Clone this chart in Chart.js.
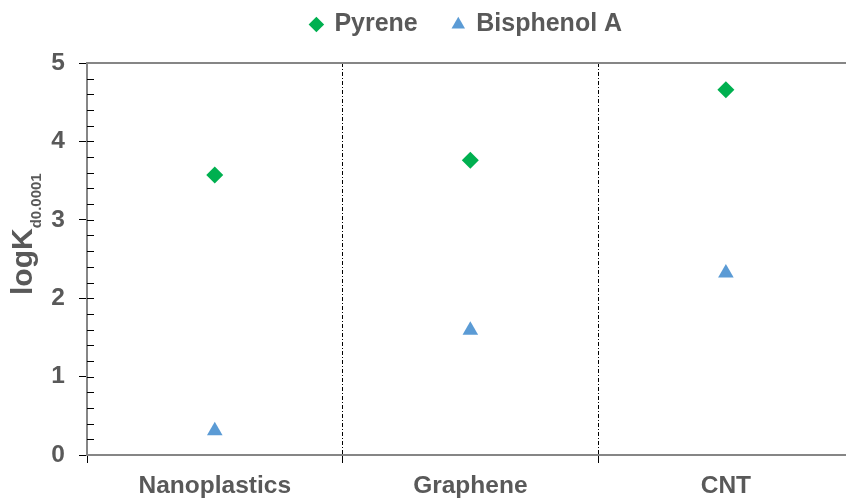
<!DOCTYPE html>
<html>
<head>
<meta charset="utf-8">
<script src="https://cdn.jsdelivr.net/npm/chart.js@4.4.0/dist/chart.umd.min.js"></script>
<style>
  html, body { margin: 0; padding: 0; background: #fff; }
  #wrap { width: 846px; height: 500px; position: relative; }
</style>
</head>
<body>
<div id="wrap"><canvas id="chart"></canvas></div>
<script>
// values
const categories = ["Nanoplastics", "Graphene", "CNT"];
const pyrene = [3.57, 3.76, 4.66];
const bisphenolA = [0.31, 1.59, 2.32];
const yTicks = [0, 1, 2, 3, 4, 5];

const FONT = "'Liberation Sans', Arial, sans-serif";
const TEXT = "#595959";
const AXIS = "#868686";

function points(vals) {
  return vals.map(function(v, i) { return {x: i + 0.5, y: v}; });
}
function isInt(v) { return Math.abs(v - Math.round(v)) < 1e-6; }

// minor ticks drawn on the inside of the y axis
const innerTicks = {
  id: "innerTicks",
  afterDatasetsDraw(chart) {
    const ctx = chart.ctx, y = chart.scales.y, left = chart.chartArea.left;
    ctx.save();
    ctx.strokeStyle = "#000";
    ctx.lineWidth = 1;
    for (let k = 1; k < 25; k++) {
      const py = Math.round(y.getPixelForValue(k * 0.2)) + 0.5;
      ctx.beginPath();
      ctx.moveTo(left, py);
      ctx.lineTo(left + 7, py);
      ctx.stroke();
    }
    ctx.restore();
  }
};

// y title with subscript
const yTitle = {
  id: "yTitle",
  afterDraw(chart) {
    const ctx = chart.ctx;
    ctx.save();
    ctx.translate(32, 295);
    ctx.rotate(-Math.PI / 2);
    ctx.fillStyle = TEXT;
    ctx.textAlign = "left";
    ctx.textBaseline = "alphabetic";
    ctx.font = "bold 30px " + FONT;
    ctx.fillText("logK", 0, 0);
    const w = ctx.measureText("logK").width;
    ctx.font = "bold 15px " + FONT;
    ctx.fillText("d0.0001", w, 9);
    ctx.restore();
  }
};

new Chart(document.getElementById("chart"), {
  type: "scatter",
  data: {
    datasets: [{
      label: "Pyrene",
      data: points(pyrene),
      pointStyle: "rectRot",
      pointRadius: 8.5,
      pointHoverRadius: 8.5,
      backgroundColor: "#00B050",
      borderColor: "#00B050",
      borderWidth: 0
    }, {
      label: "Bisphenol A",
      data: points(bisphenolA),
      pointStyle: "triangle",
      pointRadius: 9,
      pointHoverRadius: 9,
      backgroundColor: "#5B9BD5",
      borderColor: "#5B9BD5",
      borderWidth: 0
    }]
  },
  options: {
    responsive: true,
    maintainAspectRatio: false,
    devicePixelRatio: 1,
    animation: false,
    layout: { autoPadding: false, padding: { top: -23, right: 0, left: 0, bottom: 0 } },
    plugins: {
      tooltip: { enabled: false },
      legend: {
        position: "top",
        fullSize: false,
        labels: {
          usePointStyle: true,
          boxWidth: 11,
          boxHeight: 11,
          padding: 35,
          color: TEXT,
          font: { family: FONT, size: 25, weight: "bold" }
        }
      }
    },
    scales: {
      x: {
        type: "linear",
        position: "bottom",
        min: 0,
        max: 2.97,
        afterFit: function(s) { s.height = 45; },
        afterBuildTicks: function(s) {
          const t = [];
          for (let k = 0; k < categories.length * 2; k++) t.push({value: k * 0.5});
          s.ticks = t;
        },
        ticks: {
          autoSkip: false,
          maxRotation: 0,
          padding: 9,
          color: TEXT,
          font: { family: FONT, size: 24.5, weight: "bold" },
          callback: function(v) {
            return isInt(v) ? "" : categories[Math.floor(v)];
          }
        },
        grid: {
          drawOnChartArea: true,
          drawTicks: true,
          tickLength: 8,
          tickWidth: 1,
          lineWidth: 1,
          color: function(c) {
            const v = c.tick ? c.tick.value : 0;
            return (isInt(v) && v > 0) ? "#000" : "rgba(0,0,0,0)";
          },
          tickColor: function(c) {
            const v = c.tick ? c.tick.value : 0;
            return isInt(v) ? "#000" : "rgba(0,0,0,0)";
          }
        },
        border: { display: true, color: AXIS, width: 2, dash: [4, 2, 1, 2] }
      },
      x2: {
        type: "linear",
        position: "top",
        min: 0,
        max: 2.97,
        afterFit: function(s) { s.height = 16; },
        ticks: { display: false },
        grid: { display: false, drawTicks: false },
        border: { display: true, color: AXIS, width: 2 }
      },
      y: {
        min: 0,
        max: 5,
        afterFit: function(s) { s.width = 87; },
        afterBuildTicks: function(s) {
          const t = [];
          for (let k = 0; k <= 25; k++) t.push({value: k * 0.2});
          s.ticks = t;
        },
        ticks: {
          padding: 14,
          autoSkip: false,
          color: TEXT,
          font: { family: FONT, size: 24.5, weight: "bold" },
          callback: function(v) {
            const r = Math.round(v);
            return (isInt(v) && yTicks.indexOf(r) >= 0) ? String(r) : "";
          }
        },
        grid: {
          drawOnChartArea: false,
          drawTicks: true,
          tickLength: 8,
          tickWidth: 1,
          tickColor: function(c) {
            const v = c.tick ? c.tick.value : 0;
            return isInt(v) ? "#000" : "rgba(0,0,0,0)";
          }
        },
        border: { display: true, color: AXIS, width: 2 }
      }
    }
  },
  plugins: [innerTicks, yTitle]
});
</script>
</body>
</html>
